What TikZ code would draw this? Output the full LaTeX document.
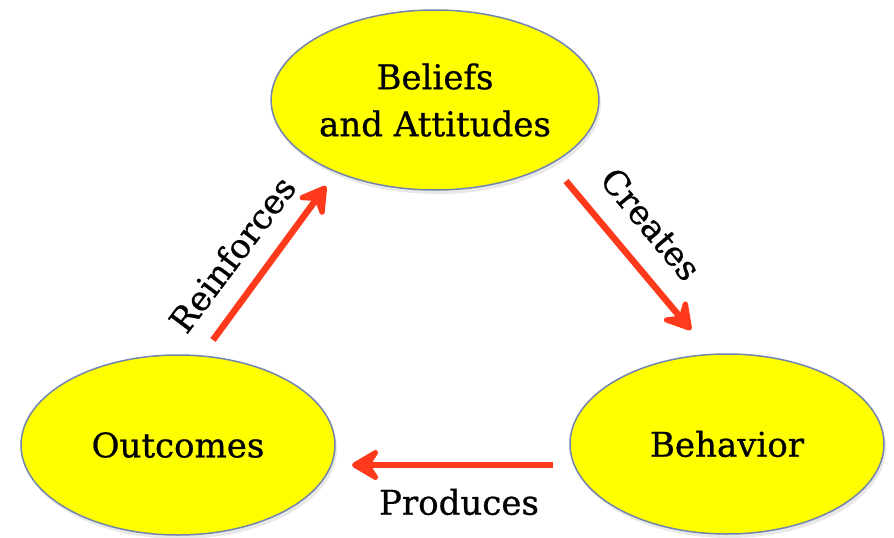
\documentclass[tikz,border=0pt]{standalone}
\usepackage{fontspec}
\setmainfont{DejaVu Serif}[FakeBold=0.7]
\usetikzlibrary{arrows.meta,shapes.geometric,shadows}
\definecolor{ovalfill}{HTML}{FFFF00}
\definecolor{ovalline}{HTML}{7285AE}
\definecolor{arrowred}{HTML}{FF3A1C}
\tikzset{
  oval/.style={ellipse, draw=ovalline, line width=1.5pt, fill=ovalfill,
    minimum width=314pt, minimum height=180pt, inner sep=0pt, align=center,
    font=\fontsize{34}{47}\selectfont,
    drop shadow={opacity=0.18, shadow xshift=2pt, shadow yshift=-4pt}},
  flow/.style={draw=arrowred, fill=arrowred, line width=6.5pt,
    -{Stealth[length=34pt,width=40pt,inset=13pt,round]}},
  flowlabel/.style={font=\fontsize{34}{38}\selectfont, inner sep=0pt}
}
\begin{document}
\begin{tikzpicture}[x=1pt,y=-1pt]
  \useasboundingbox (0,0) rectangle (894,538);
  \fill[white] (0,0) rectangle (894,538);

  % the three states of the cycle
  \node[oval] (bel) at (435,100) {Beliefs\\and Attitudes};
  \node[oval] (beh) at (727,444) {Behavior};
  \node[oval] (out) at (178,445) {Outcomes};

  % arrow end points
  \coordinate (c1) at (566,181);
  \coordinate (c2) at (691,330);
  \coordinate (p1) at (553,465);
  \coordinate (p2) at (352,465);
  \coordinate (r1) at (213,340);
  \coordinate (r2) at (326,186);

  % connectors
  \draw[flow] (c1) -- (c2);
  \draw[flow] (p1) -- (p2);
  \draw[flow] (r1) -- (r2);

  % connector labels
  \node[flowlabel, rotate=-50] (lc) at (651,224) {Creates};
  \node[flowlabel] (lp) at (459,502) {Produces};
  \node[flowlabel, rotate=53] (lr) at (232,254) {Reinforces};
\end{tikzpicture}
\end{document}
